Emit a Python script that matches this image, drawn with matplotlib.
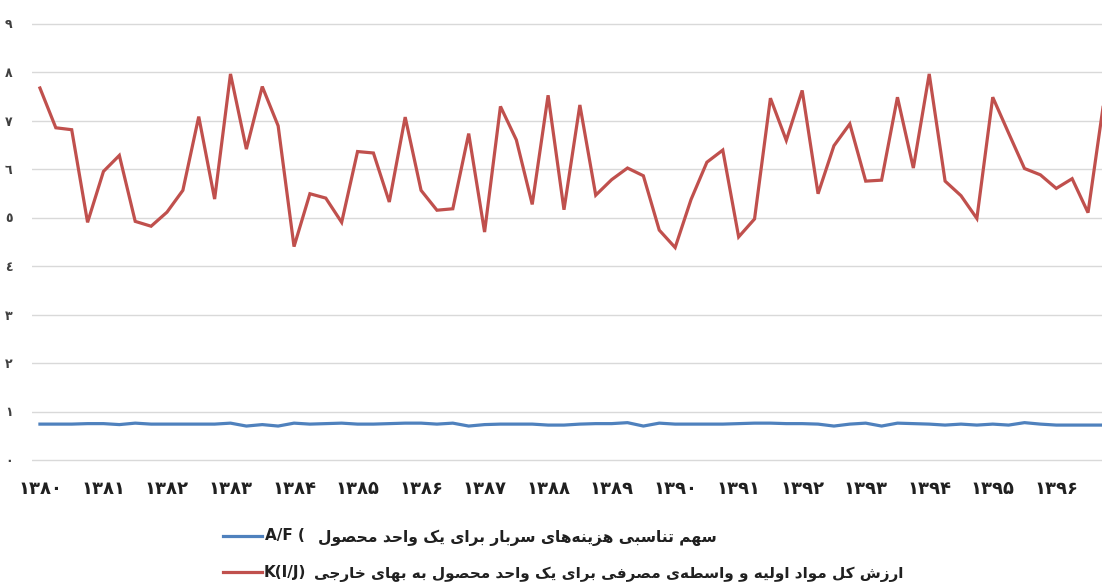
import matplotlib
matplotlib.use('Agg')
import matplotlib.pyplot as plt
from matplotlib.lines import Line2D

# ---------------- data ----------------
year_labels = ['۱۳۸۰', '۱۳۸۱', '۱۳۸۲', '۱۳۸۳', '۱۳۸۴', '۱۳۸۵', '۱۳۸۶', '۱۳۸۷', '۱۳۸۸',
               '۱۳۸۹', '۱۳۹۰', '۱۳۹۱', '۱۳۹۲', '۱۳۹۳', '۱۳۹۴', '۱۳۹۵', '۱۳۹۶']
y_labels = ['٠', '١', '٢', '٣', '٤', '٥', '٦', '٧', '٨', '٩']

red_KIJ = [7.67, 6.85, 6.81, 4.90, 5.95, 6.28, 4.92, 4.82, 5.11, 5.56,
           7.08, 5.38, 7.96, 6.41, 7.70, 6.89, 4.40, 5.49, 5.40, 4.90,
           6.36, 6.33, 5.32, 7.07, 5.56, 5.15, 5.18, 6.73, 4.70, 7.29,
           6.60, 5.27, 7.52, 5.16, 7.32, 5.46, 5.78, 6.02, 5.86, 4.74,
           4.38, 5.37, 6.14, 6.39, 4.60, 4.97, 7.46, 6.59, 7.62, 5.49,
           6.48, 6.93, 5.75, 5.77, 7.48, 6.02, 7.96, 5.75, 5.45, 4.98,
           7.48, 6.74, 6.01, 5.88, 5.60, 5.80, 5.10, 7.40]

blue_AF = [0.74, 0.74, 0.74, 0.75, 0.75, 0.73, 0.76, 0.74, 0.74, 0.74,
           0.74, 0.74, 0.76, 0.70, 0.73, 0.70, 0.76, 0.74, 0.75, 0.76,
           0.74, 0.74, 0.75, 0.76, 0.76, 0.74, 0.76, 0.70, 0.73, 0.74,
           0.74, 0.74, 0.72, 0.72, 0.74, 0.75, 0.75, 0.77, 0.70, 0.76,
           0.74, 0.74, 0.74, 0.74, 0.75, 0.76, 0.76, 0.75, 0.75, 0.74,
           0.70, 0.74, 0.76, 0.70, 0.76, 0.75, 0.74, 0.72, 0.74, 0.72,
           0.74, 0.72, 0.77, 0.74, 0.72, 0.72, 0.72, 0.72]

legend_blue_fa = 'سهم تناسبی هزینه\u200cهای سربار برای یک واحد محصول'
legend_blue_en = 'A/F ('
legend_red_fa = 'ارزش کل مواد اولیه و واسطه\u200cی مصرفی برای یک واحد محصول به بهای خارجی'
legend_red_en = 'K(I/J)'

RED = '#c0504d'
BLUE = '#4f81bd'
GRID = '#d9d9d9'

# ---------------- simple Persian shaping ----------------
FORMS = {
    'ا': ('\uFE8D', '\uFE8E', None, None),
    'ب': ('\uFE8F', '\uFE90', '\uFE91', '\uFE92'),
    'ت': ('\uFE95', '\uFE96', '\uFE97', '\uFE98'),
    'ج': ('\uFE9D', '\uFE9E', '\uFE9F', '\uFEA0'),
    'ح': ('\uFEA1', '\uFEA2', '\uFEA3', '\uFEA4'),
    'خ': ('\uFEA5', '\uFEA6', '\uFEA7', '\uFEA8'),
    'د': ('\uFEA9', '\uFEAA', None, None),
    'ر': ('\uFEAD', '\uFEAE', None, None),
    'ز': ('\uFEAF', '\uFEB0', None, None),
    'س': ('\uFEB1', '\uFEB2', '\uFEB3', '\uFEB4'),
    'ش': ('\uFEB5', '\uFEB6', '\uFEB7', '\uFEB8'),
    'ص': ('\uFEB9', '\uFEBA', '\uFEBB', '\uFEBC'),
    'ط': ('\uFEC1', '\uFEC2', '\uFEC3', '\uFEC4'),
    'ف': ('\uFED1', '\uFED2', '\uFED3', '\uFED4'),
    '\u06A9': ('\uFB8E', '\uFB8F', '\uFB90', '\uFB91'),
    'ل': ('\uFEDD', '\uFEDE', '\uFEDF', '\uFEE0'),
    'م': ('\uFEE1', '\uFEE2', '\uFEE3', '\uFEE4'),
    'ن': ('\uFEE5', '\uFEE6', '\uFEE7', '\uFEE8'),
    'ه': ('\uFEE9', '\uFEEA', '\uFEEB', '\uFEEC'),
    'و': ('\uFEED', '\uFEEE', None, None),
    '\u06CC': ('\uFBFC', '\uFBFD', '\uFBFE', '\uFBFF'),
}


def shape_rtl(text):
    text = text.replace('\u0643', '\u06A9').replace('\u064A', '\u06CC')
    out = []
    n = len(text)
    for i, ch in enumerate(text):
        if ch not in FORMS:
            if ch != '\u200c':
                out.append(ch)
            continue
        f = FORMS[ch]
        prev = text[i - 1] if i > 0 else None
        nxt = text[i + 1] if i < n - 1 else None
        join_prev = prev in FORMS and FORMS[prev][2] is not None
        join_next = f[2] is not None and nxt in FORMS
        if join_prev and join_next:
            g = f[3]
        elif join_prev:
            g = f[1]
        elif join_next:
            g = f[2]
        else:
            g = f[0]
        out.append(g)
    return ''.join(out)[::-1]


# ---------------- figure ----------------
W, H = 1102, 587
fig = plt.figure(figsize=(W / 100, H / 100), dpi=100)
fig.patch.set_facecolor('white')


def px(x, y):
    return x / W, 1 - y / H


unit = 48.5
pad_u = 0.06
x0, x1 = 32, 32 + 68 * 15.88
y0 = 460 + pad_u * unit
y9 = 460 - (9 + pad_u) * unit
ax = fig.add_axes([x0 / W, (H - y0) / H, (x1 - x0) / W, (y0 - y9) / H])
xs = list(range(len(red_KIJ)))
ax.plot(xs, blue_AF, color=BLUE, lw=2.3, solid_joinstyle='round', zorder=3)
ax.plot(xs, red_KIJ, color=RED, lw=2.3, solid_joinstyle='miter', zorder=3)
ax.set_xlim(-0.5, len(red_KIJ) - 0.5)
ax.set_ylim(-pad_u, 9 + pad_u)
ax.set_yticks(range(len(y_labels)))
ax.set_yticklabels(y_labels, fontsize=9, fontweight='bold', color='#404040')
ax.set_xticks(range(0, 4 * len(year_labels), 4))
ax.set_xticklabels(year_labels, fontsize=13, fontweight='bold', color='#202020')
ax.grid(axis='y', color=GRID, lw=1.0)
ax.grid(axis='x', visible=False)
ax.set_axisbelow(True)
for s in ax.spines.values():
    s.set_visible(False)
ax.tick_params(axis='both', length=0)
ax.tick_params(axis='x', pad=12)
ax.tick_params(axis='y', pad=14)

# ---------------- legend ----------------
fig.add_artist(Line2D([223 / W, 262 / W], [1 - 536 / H] * 2, color=BLUE, lw=2.3))
fig.add_artist(Line2D([223 / W, 262 / W], [1 - 572 / H] * 2, color=RED, lw=2.3))
fig.text(*px(265, 536), legend_blue_en, ha='left', va='center', fontsize=11,
         fontweight='bold', color='#202020')
fig.text(*px(264, 572), legend_red_en, ha='left', va='center', fontsize=11,
         fontweight='bold', color='#202020')

t1 = fig.text(*px(717, 538), shape_rtl(legend_blue_fa), ha='right', va='center',
              fontsize=11, fontweight='bold', color='#202020', family='DejaVu Sans')
t2 = fig.text(*px(903, 574), shape_rtl(legend_red_fa), ha='right', va='center',
              fontsize=11, fontweight='bold', color='#202020', family='DejaVu Sans')
fig.canvas.draw()
r = fig.canvas.get_renderer()
w1 = t1.get_window_extent(r).width
w2 = t2.get_window_extent(r).width
t1.set_fontsize(11 * 400 / w1)
t2.set_fontsize(11 * 588 / w2)

fig.savefig('out.png', dpi=100, facecolor='white')
